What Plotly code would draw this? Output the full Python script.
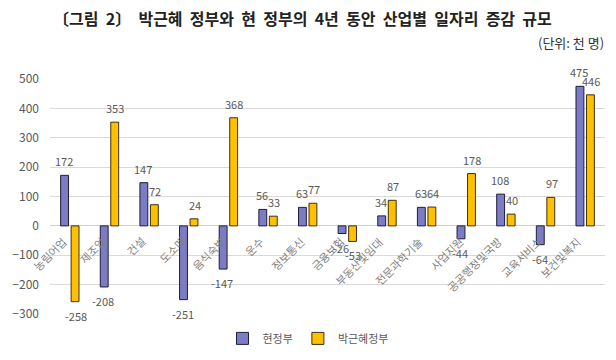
import plotly.graph_objects as go

categories = ["농림어업", "제조업", "건설", "도소매", "음식숙박", "운수", "정보통신",
              "금융보험", "부동산및임대", "전문과학기술", "사업지원", "공공행정및국방",
              "교육서비스", "보건및복지"]
current_gov = [172, -208, 147, -251, -147, 56, 63, -26, 34, 63, -44, 108, -64, 475]
park_gov = [-258, 353, 72, 24, 368, 33, 77, -53, 87, 64, 178, 40, 97, 446]
series_names = ["현정부", "박근혜정부"]
y_ticks = [-300, -200, -100, 0, 100, 200, 300, 400, 500]

FONT = "Noto Sans CJK KR"
BLUE = "#7C7CC4"
YELLOW = "#FFC000"
LABEL = "#595959"

fig = go.Figure()
fig.add_trace(go.Bar(x=categories, y=current_gov, name=series_names[0],
                     marker=dict(color=BLUE, line=dict(color="#1E1E3C", width=1))))
fig.add_trace(go.Bar(x=categories, y=park_gov, name=series_names[1],
                     marker=dict(color=YELLOW, line=dict(color="#3C3010", width=1))))

annotations = []
# data labels
for vals, xs in ((current_gov, -6), (park_gov, 6)):
    for c, v in zip(categories, vals):
        annotations.append(dict(x=c, y=v, xref="x", yref="y", text=str(v), showarrow=False,
                                xshift=xs, yshift=14 if v >= 0 else -14,
                                font=dict(family=FONT, size=11, color=LABEL)))
# category labels placed along the zero line
for c in categories:
    annotations.append(dict(x=c, y=0, xref="x", yref="y", text=c, showarrow=False,
                            textangle=-45, xanchor="right", yanchor="top",
                            xshift=2, yshift=-5,
                            font=dict(family=FONT, size=11, color="#7F7F7F")))

title_text = "\u00a0\u00a0".join(["〔그림", "2〕", "박근혜", "정부와", "현", "정부의", "4년",
                                   "동안", "산업별", "일자리", "증감", "규모"])
annotations.append(dict(text="<b>" + title_text + "</b>", xref="paper", yref="paper",
                        x=(302 - 50) / 555, y=1 + (79 - 18) / 235,
                        xanchor="center", yanchor="middle", showarrow=False,
                        font=dict(family=FONT, size=16, color="#222222")))
annotations.append(dict(text="(단위:\u00a0천\u00a0명)", xref="paper", yref="paper",
                        x=(606 - 50) / 555, y=1 + (79 - 42) / 235, xanchor="right",
                        yanchor="middle", showarrow=False,
                        font=dict(family=FONT, size=13, color="#333333")))

fig.update_layout(
    width=616, height=360,
    margin=dict(l=50, r=11, t=79, b=46, autoexpand=False),
    paper_bgcolor="white", plot_bgcolor="white",
    barmode="group", bargap=0.47, bargroupgap=0.25,
    showlegend=True,
    legend=dict(orientation="h", x=0.5, xanchor="center", xref="container",
                y=0.06, yanchor="middle", yref="container",
                font=dict(family=FONT, size=11, color=LABEL),
                itemwidth=30, tracegroupgap=0),
    font=dict(family=FONT),
    xaxis=dict(range=[-0.5, len(categories) - 0.5], showticklabels=False, showgrid=False,
               zeroline=False, showline=False),
    yaxis=dict(range=[-300, 500], tickvals=y_ticks, showgrid=True, gridcolor="#D9D9D9",
               gridwidth=1, zeroline=True, zerolinecolor="#D0D0D0", zerolinewidth=1,
               tickfont=dict(family=FONT, size=12, color=LABEL), ticks="", ticklabelstandoff=10),
    annotations=annotations,
)
fig.update_traces(cliponaxis=False)
fig.write_html("out.html", config={"displayModeBar": False},
               post_script="document.body.style.margin='0';")
